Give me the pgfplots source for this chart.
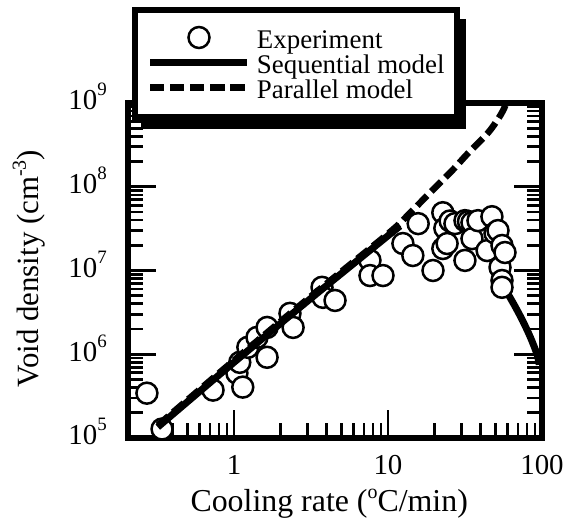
\documentclass[border=0pt]{standalone}
\usepackage{fontspec}
\setmainfont{Liberation Serif}
\usepackage{pgfplots}
\pgfplotsset{compat=1.18}

% raised small text for exponents
\newcommand{\supT}[1]{\raisebox{14bp}{\fontsize{19}{19}\selectfont #1}}
\newcommand{\supL}[1]{\raisebox{13bp}{\fontsize{20}{20}\selectfont #1}}

\begin{document}
\begin{tikzpicture}
\begin{axis}[
    at={(0,0)}, anchor=south west,
    scale only axis, width=414bp, height=335bp,
    xmode=log, ymode=log,
    xmin=0.205, xmax=100, ymin=1e5, ymax=1e9,
    xtick={1,10,100}, xticklabels={1,10,100},
    minor xtick={0.3,0.4,0.5,0.6,0.7,0.8,0.9,2,3,4,5,6,7,8,9,20,30,40,50,60,70,80,90},
    ytick={1e5,1e6,1e7,1e8,1e9},
    yticklabels={10\supT{5},10\supT{6},10\supT{7},10\supT{8},10\supT{9}},
    minor ytick={2e5,3e5,4e5,5e5,6e5,7e5,8e5,9e5,2e6,3e6,4e6,5e6,6e6,7e6,8e6,9e6,
                 2e7,3e7,4e7,5e7,6e7,7e7,8e7,9e7,2e8,3e8,4e8,5e8,6e8,7e8,8e8,9e8},
    xtick pos=left, ytick pos=both,
    tick align=inside,
    major tick length=0.988cm, minor tick length=0.529cm,
    tick style={black, line width=2.7bp},
    axis line style={line width=6.5bp},
    clip marker paths=true,
    xticklabel style={font=\fontsize{29}{29}\selectfont, anchor=base, inner sep=0pt, yshift=-37bp},
    yticklabel style={font=\fontsize{29}{29}\selectfont, anchor=base east, inner sep=0pt, xshift=-21bp, yshift=-7bp},
    every axis x label/.style={at={(axis description cs:0.486,0)}, anchor=base, yshift=-74bp,
        font=\fontsize{32}{32}\selectfont},
    every axis y label/.style={at={(axis description cs:-0.215,0.506)}, anchor=base, rotate=90,
        font=\fontsize{31}{31}\selectfont},
    xlabel={Cooling rate (\supL{o}C/min)},
    ylabel={Void density (cm\supL{-3})},
    legend image code/.code={\draw[mark repeat=2, mark phase=2, #1]
        plot coordinates {(0bp,10.5bp) (48.5bp,10.5bp) (97bp,10.5bp)};},
    legend style={
        name=leg, outer sep=0pt,
        at={(axis description cs:0.0169,1.2776)}, anchor=north west,
        draw=black, line width=6bp, fill=white,
        inner xsep=12bp, inner ysep=16bp,
        column sep=6bp, row sep=0pt,
        font=\fontsize{27}{27}\selectfont,
        cells={anchor=base west},
        nodes={inner sep=0pt, text height=22bp, text depth=3bp},
    },
]

% tick marks again by hand, same places (inward; x bottom only, y both sides)
\pgfplotsinvokeforeach{1,10,100}{
    \draw[line width=2.7bp] (axis cs:#1,1e5) -- ([yshift=0.988cm]axis cs:#1,1e5);}
\pgfplotsinvokeforeach{0.3,0.4,0.5,0.6,0.7,0.8,0.9,2,3,4,5,6,7,8,9,20,30,40,50,60,70,80,90}{
    \draw[line width=2.7bp] (axis cs:#1,1e5) -- ([yshift=0.529cm]axis cs:#1,1e5);}
\pgfplotsinvokeforeach{1e5,1e6,1e7,1e8,1e9}{
    \draw[line width=2.7bp] (axis cs:0.205,#1) -- ([xshift=0.988cm]axis cs:0.205,#1);
    \draw[line width=2.7bp] (axis cs:100,#1) -- ([xshift=-0.988cm]axis cs:100,#1);}
\pgfplotsinvokeforeach{2e5,3e5,4e5,5e5,6e5,7e5,8e5,9e5,2e6,3e6,4e6,5e6,6e6,7e6,8e6,9e6,2e7,3e7,4e7,5e7,6e7,7e7,8e7,9e7,2e8,3e8,4e8,5e8,6e8,7e8,8e8,9e8}{
    \draw[line width=2.7bp] (axis cs:0.205,#1) -- ([xshift=0.529cm]axis cs:0.205,#1);
    \draw[line width=2.7bp] (axis cs:100,#1) -- ([xshift=-0.529cm]axis cs:100,#1);}

% experiment, lower part (under the model lines)
\addplot[only marks, mark=*, mark size=10.5bp,
    mark options={fill=white, draw=black, line width=2.5bp}] coordinates {
    (0.272,3.43e5) (0.341,1.28e5) (0.731,3.73e5) (1.045,5.94e5) (1.09,8.0e5)
    (1.14,4.05e5) (1.23,1.21e6) (1.41,1.59e6) (1.64,2.09e6) (1.64,9.2e5)
    (2.31,3.08e6) (2.42,2.09e6) (3.73,6.3e6) (3.78,4.78e6) (4.53,4.39e6)
    (7.64,1.32e7) (7.64,8.7e6) (9.28,8.7e6)
};
\addlegendentry{Experiment}

% sequential model, rising part
\addplot[black, line width=7bp, smooth] coordinates {
    (0.32,1.35e5) (1,8.0e5) (3,4.3e6) (10,2.6e7) (12,3.4e7)
};
\addlegendentry{Sequential model}

% parallel model
\addplot[black, line width=6.5bp, dash pattern=on 14bp off 6bp, smooth] coordinates {
    (0.32,1.42e5) (1,8.45e5) (3,4.55e6) (10,2.75e7) (13.5,4.6e7) (17.9,7.8e7)
    (26,1.55e8) (33,2.5e8) (44.6,4.4e8) (52,6.5e8) (56,8.2e8) (58.5,1e9) (59.5,1.3e9)
};
\addlegendentry{Parallel model}

% sequential model, falling part
\addplot[forget plot, black, line width=7bp, smooth] coordinates {
    (55,7.2e6) (60,5.3e6) (67,3.7e6) (75,2.5e6) (84,1.6e6) (92.8,1.0e6) (96,7.5e5)
};

% experiment, upper cluster
\addplot[forget plot, only marks, mark=*, mark size=10.5bp,
    mark options={fill=white, draw=black, line width=2.5bp}] coordinates {
    (12.5,2.1e7) (14.5,1.51e7) (15.7,3.63e7) (19.6,1.0e7) (22.7,4.9e7)
    (22.7,1.83e7) (23.4,3.2e7) (24.2,2.1e7) (25.3,3.9e7) (27.2,3.63e7)
    (31.6,3.94e7) (31.6,1.32e7) (33.3,3.85e7) (35.1,3.73e7) (35.1,2.4e7)
    (38.4,3.94e7) (44,1.73e7) (47.3,4.39e7) (49.5,2.8e7) (51.8,3.0e7)
    (53.4,1.09e7) (55,1.99e7) (57.5,1.64e7) (55,7.6e6) (55,6.3e6)
};

\end{axis}
% drop shadow of the legend box (right and bottom)
\fill[black] ([yshift=-9bp]leg.north east) rectangle ([xshift=9bp,yshift=-12bp]leg.south east);
\fill[black] ([xshift=6bp]leg.south west) rectangle ([xshift=9bp,yshift=-12bp]leg.south east);
\pgfresetboundingbox
\useasboundingbox (-128bp,-86bp) rectangle (444bp,438bp);
\end{tikzpicture}
\end{document}
